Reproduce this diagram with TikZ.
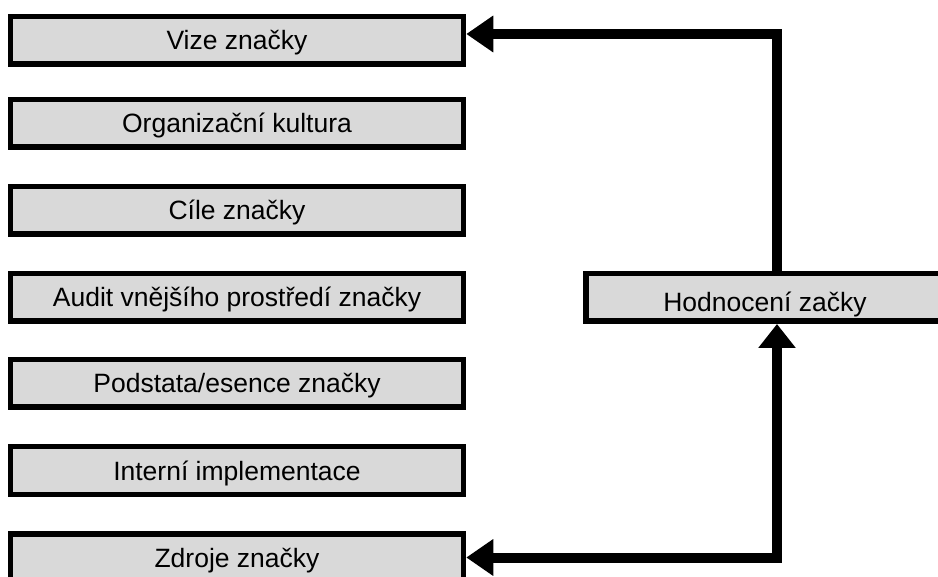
\documentclass[tikz,border=0pt]{standalone}
\usepackage{fontspec}
\setmainfont{Liberation Sans}
\usepackage{xcolor}
\usepackage{tikz}
\usetikzlibrary{arrows.meta,positioning}
\definecolor{boxgray}{RGB}{217,217,217}

\begin{document}
\begin{tikzpicture}[x=1pt, y=-1pt]

% Brand planning stages with evaluation feedback
\tikzstyle{stage}=[rectangle, draw=black, fill=boxgray, line width=5.5pt, minimum width=453pt, minimum height=47.5pt, inner sep=0pt, text height=19pt, text depth=0pt, font=\fontsize{26.5}{30}\selectfont]
\tikzstyle{evalbox}=[stage, minimum width=358.5pt, text height=28.5pt]
\tikzstyle{feedback}=[line width=10pt, draw=black]

\useasboundingbox (0,0) rectangle (938,577);

% Stages
\node[stage] (vize) at (237,40.5) {Vize značky};
\node[stage] (kultura) at (237,123.5) {Organizační kultura};
\node[stage] (cile) at (237,210.5) {Cíle značky};
\node[stage] (audit) at (237,297.5) {Audit vnějšího prostředí značky};
\node[stage] (podstata) at (237,383.5) {Podstata/esence značky};
\node[stage] (interni) at (237,470.5) {Interní implementace};
\node[stage] (zdroje) at (237,557.5) {Zdroje značky};

% Evaluation
\node[evalbox] (hodnoceni) at (765,297.5) {Hodnocení začky};

% Arrows
\draw[feedback, -{Triangle[length=27pt,width=35pt]}] ([xshift=12pt]hodnoceni.north) |- ([yshift=6.5pt]vize.east);
\draw[feedback, {Triangle[length=27pt,width=35pt]}-{Triangle[length=24pt,width=36pt]}] (zdroje.east) -| ([xshift=12pt]hodnoceni.south);

\end{tikzpicture}
\end{document}
